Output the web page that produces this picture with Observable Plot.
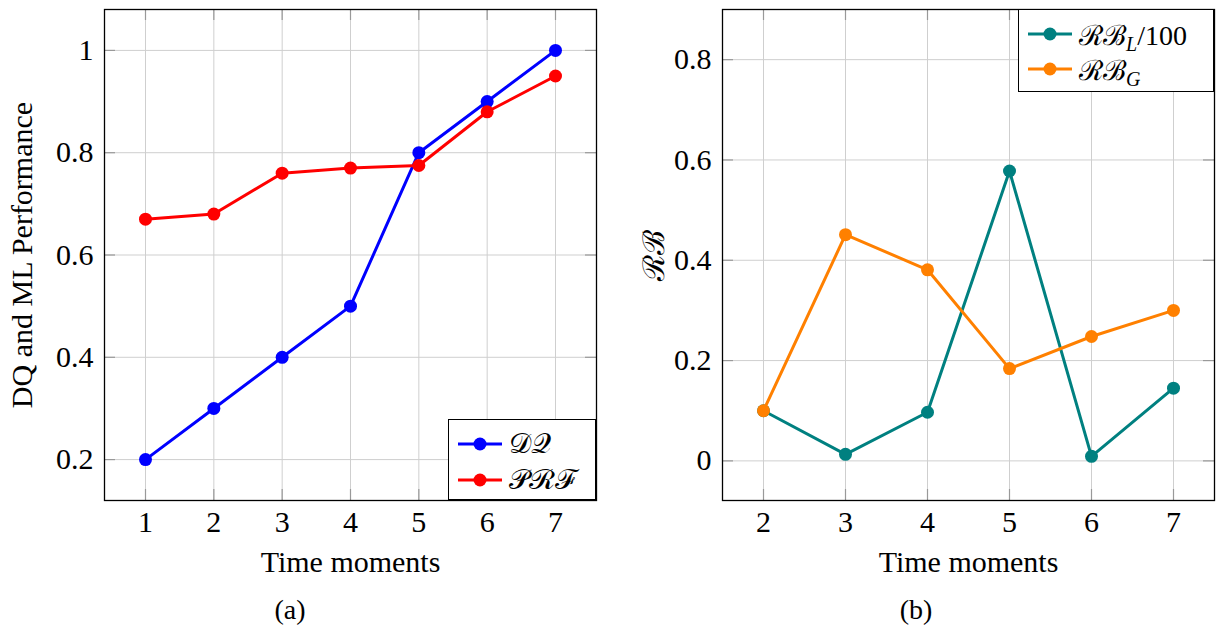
<!DOCTYPE html>
<html><head><meta charset="utf-8">
<script src="https://cdn.jsdelivr.net/npm/d3@7"></script>
<script src="https://cdn.jsdelivr.net/npm/@observablehq/plot@0.6"></script>
<style>
body{margin:0;background:#fff;}
#wrap{position:relative;width:1221px;height:634px;font-family:"Liberation Serif";color:#000;overflow:hidden;}
.panel{position:absolute;top:0;}
.legend{position:absolute;background:#fff;border:1.3px solid #000;box-sizing:border-box;}
.row{position:absolute;left:8px;height:34px;display:flex;align-items:center;font-size:28px;white-space:nowrap;}
.row svg{margin-right:6px;}
.cap{position:absolute;font-size:28px;line-height:30px;width:80px;text-align:center;}
sub{font-size:20px;font-style:italic;vertical-align:-6px;line-height:0;}
</style></head>
<body><div id="wrap"></div>
<script>
// ---- data ----
const timeA = [1, 2, 3, 4, 5, 6, 7];
const dq    = [0.2, 0.3, 0.4, 0.5, 0.8, 0.9, 1.0];
const prf   = [0.67, 0.68, 0.76, 0.77, 0.775, 0.88, 0.95];
const timeB = [2, 3, 4, 5, 6, 7];
const rbL   = [0.1, 0.013, 0.097, 0.578, 0.009, 0.145];
const rbG   = [0.1, 0.451, 0.381, 0.184, 0.248, 0.3];
const xTicksA = [1, 2, 3, 4, 5, 6, 7];
const yTicksA = [0.2, 0.4, 0.6, 0.8, 1];
const xTicksB = [2, 3, 4, 5, 6, 7];
const yTicksB = [0, 0.2, 0.4, 0.6, 0.8];
const seriesA = [{name: "𝒟𝒬", values: dq, color: "#0000ff"}, {name: "𝒫ℛℱ", values: prf, color: "#ff0000"}];
const seriesB = [{name: "ℛℬL/100", values: rbL, color: "#008080"}, {name: "ℛℬG", values: rbG, color: "#ff8000"}];

const wrap = document.getElementById("wrap");
const H = 590, MT = 9, MB = 90;

function panel({left, width, ml, mr, xs, series, xDomain, yDomain, xTicks, yTicks, yLabel, yLabelOffset}) {
  const fw = width - ml - mr, fh = H - MT - MB;
  const marks = [
    Plot.gridX(xTicks, {stroke: "#cfcfcf", strokeOpacity: 1, strokeWidth: 1}),
    Plot.gridY(yTicks, {stroke: "#cfcfcf", strokeOpacity: 1, strokeWidth: 1}),
    Plot.tickX(xTicks, {x: d => d, insetTop: fh - 11, stroke: "#999", strokeWidth: 1.2}),
    Plot.tickX(xTicks, {x: d => d, insetBottom: fh - 11, stroke: "#999", strokeWidth: 1.2}),
    Plot.tickY(yTicks, {y: d => d, insetRight: fw - 11, stroke: "#999", strokeWidth: 1.2}),
    Plot.tickY(yTicks, {y: d => d, insetLeft: fw - 11, stroke: "#999", strokeWidth: 1.2}),
    Plot.frame({stroke: "#000", strokeWidth: 1.3}),
    Plot.axisX(xTicks, {tickSize: 0, tickPadding: 10, label: "Time moments", labelAnchor: "center", labelArrow: "none", labelOffset: 71}),
    Plot.axisY(yTicks, {tickSize: 0, tickPadding: 11, tickFormat: d => String(d), label: yLabel, labelAnchor: "center", labelArrow: "none", labelOffset: yLabelOffset})
  ];
  for (const s of series) {
    const data = xs.map((x, i) => ({x, y: s.values[i]}));
    marks.push(Plot.line(data, {x: "x", y: "y", stroke: s.color, strokeWidth: 3}));
    marks.push(Plot.dot(data, {x: "x", y: "y", fill: s.color, r: 6.5}));
  }
  const p = Plot.plot({
    width, height: H, marginLeft: ml, marginRight: mr, marginTop: MT, marginBottom: MB,
    x: {domain: xDomain}, y: {domain: yDomain},
    style: {fontSize: "30px", fontFamily: "Liberation Serif", color: "#000", background: "transparent", overflow: "visible"},
    marks
  });
  p.classList.add("panel");
  p.style.left = left + "px";
  wrap.appendChild(p);
}

panel({left: 0, width: 606, ml: 104, mr: 10, xs: timeA, series: seriesA, xDomain: [0.4, 7.6], yDomain: [0.12, 1.08],
       xTicks: xTicksA, yTicks: yTicksA, yLabel: "DQ and ML Performance", yLabelOffset: 94});
panel({left: 610, width: 611, ml: 112, mr: 7, xs: timeB, series: seriesB, xDomain: [1.5, 7.5], yDomain: [-0.079, 0.9],
       xTicks: xTicksB, yTicks: yTicksB, yLabel: "ℛℬ", yLabelOffset: 80});

function legend({left, top, width, height, rows, html}) {
  const d = document.createElement("div");
  d.className = "legend";
  Object.assign(d.style, {left: left + "px", top: top + "px", width: width + "px", height: height + "px"});
  rows.forEach((r, i) => {
    const row = document.createElement("div");
    row.className = "row";
    row.style.top = (r.cy - top - 17) + "px";
    row.innerHTML = `<svg width="46" height="20"><line x1="1" y1="10" x2="45" y2="10" stroke="${r.color}" stroke-width="3"/><circle cx="23" cy="10" r="6.5" fill="${r.color}"/></svg><span>${html[i]}</span>`;
    d.appendChild(row);
  });
  wrap.appendChild(d);
}
legend({left: 448, top: 419, width: 148, height: 81,
  rows: [{cy: 443, color: seriesA[0].color}, {cy: 479, color: seriesA[1].color}],
  html: ["𝒟𝒬", "𝒫ℛℱ"]});
legend({left: 1018, top: 9, width: 196, height: 83,
  rows: [{cy: 33, color: seriesB[0].color}, {cy: 68, color: seriesB[1].color}],
  html: ["ℛℬ<sub>L</sub>/100", "ℛℬ<sub>G</sub>"]});

for (const [t, cx] of [["(a)", 290], ["(b)", 916]]) {
  const c = document.createElement("div");
  c.className = "cap";
  c.textContent = t;
  c.style.left = (cx - 40) + "px";
  c.style.top = "595px";
  wrap.appendChild(c);
}
</script></body></html>
